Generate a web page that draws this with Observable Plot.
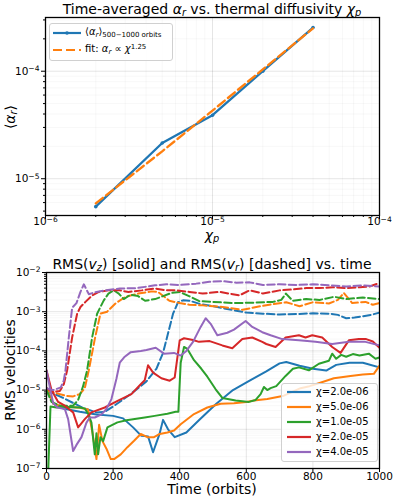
<!DOCTYPE html>
<html><head><meta charset="utf-8">
<script src="https://cdn.jsdelivr.net/npm/d3@7"></script>
<script src="https://cdn.jsdelivr.net/npm/@observablehq/plot@0.6"></script>
<style>
body{margin:0;background:#fff;}
#wrap{position:relative;width:396px;height:499px;font-family:"DejaVu Sans",sans-serif;color:#000;overflow:hidden;background:#fff}
.abs{position:absolute;white-space:nowrap}
sub{font-size:70%;vertical-align:-0.25em;line-height:0}
sup{font-size:70%;vertical-align:0.45em;line-height:0}
.ttl{font-size:14px;line-height:16px;left:45px;width:334px;text-align:center}
.lab{font-size:14px;line-height:16px;text-align:center}
.rot{transform:rotate(-90deg)}
.box{position:absolute;background:rgba(255,255,255,0.8);border:1px solid #d0d0d0;border-radius:3px}
.lt{font-size:10px;line-height:12px}
</style></head><body>
<div id="wrap">
  <div id="topchart" class="abs" style="left:0;top:0"></div>
  <div id="botchart" class="abs" style="left:0;top:245px"></div>

  <div class="abs ttl" style="top:1px">Time-averaged <i>α</i><sub><i>r</i></sub> vs. thermal diffusivity <i>χ</i><sub><i>p</i></sub></div>
  <div class="abs lab" style="left:162px;width:100px;top:230px;line-height:11px"><i>χ</i><sub><i>p</i></sub></div>
  <div class="abs lab rot" style="left:-40px;width:100px;top:109px">⟨<i>α</i><sub><i>r</i></sub>⟩</div>

  <div class="abs ttl" style="top:256px">RMS(<i>v</i><sub><i>z</i></sub>) [solid] and RMS(<i>v</i><sub><i>r</i></sub>) [dashed] vs. time</div>
  <div class="abs lab" style="left:132px;width:160px;top:481px">Time (orbits)</div>
  <div class="abs lab rot" style="left:-50px;width:120px;top:362px">RMS velocities</div>

  <div id="legTop"></div>
  <div id="legBot"></div>
</div>
<script>
// ---------- top panel data ----------
const topChi   = [2e-6, 5e-6, 1e-5, 2e-5, 4e-5];
const topAlpha = [5.5e-6, 2.15e-5, 3.9e-5, 1.0e-4, 2.55e-4];
const topFit   = [5.9e-6, 1.8e-5, 4.3e-5, 1.04e-4, 2.5e-4];

// ---------- bottom panel data (time in orbits, RMS velocity) ----------
const chiLabels = ["χ=2.0e-06", "χ=5.0e-06", "χ=1.0e-05", "χ=2.0e-05", "χ=4.0e-05"];
const colors = ["#1f77b4", "#ff7f0e", "#2ca02c", "#d62728", "#9467bd"];

const tVz1 = [0,20,50,100,150,200,230,260,285,305,320,340,350,365,385,420,460,510,560,610,660,700,720,760,800,840,870,910,950,1000];
const vz1  = [1.12e-5,4.5e-6,3.4e-6,2.8e-6,2.4e-6,2.2e-6,1.9e-6,1.12e-6,6.8e-7,6.6e-7,2.6e-7,7.9e-7,1.74e-6,1.0e-6,6.3e-7,8.3e-7,1.78e-6,4.5e-6,1.0e-5,1.74e-5,3.0e-5,4.8e-5,5.2e-5,4.2e-5,3.5e-5,3.16e-5,4.4e-5,5.0e-5,5.0e-5,3.8e-5];
const tVr1 = [0,20,50,80,110,150,175,200,250,300,330,350,365,380,395,410,430,460,500,530,560,600,650,700,750,800,850,875,900,925,950,975,1000];
const vr1  = [1.0e-5,8.3e-6,6.3e-6,4.7e-6,3.5e-6,2.7e-6,2.8e-6,3.8e-6,7.6e-6,1.66e-5,3.5e-5,8.9e-5,2.8e-4,8.9e-4,1.74e-3,1.95e-3,1.9e-3,1.58e-3,1.38e-3,1.23e-3,1.1e-3,9.5e-4,8.9e-4,8.5e-4,8.7e-4,9.1e-4,8.9e-4,8.3e-4,6.8e-4,7.1e-4,7.6e-4,8.3e-4,9.5e-4];

const tVz2 = [0,20,50,100,125,138,150,158,168,180,193,203,223,243,263,283,303,323,340,363,383,403,443,483,523,563,600,623,663,713,763,790,813,863,913,950,983,1000];
const vz2  = [1.07e-5,4.5e-6,3.8e-6,3.55e-6,3.2e-6,8.3e-7,1.74e-7,1.3e-6,5.0e-7,3.2e-7,1.74e-7,1.74e-7,2.3e-7,3.5e-7,5.1e-7,7.6e-7,6.3e-7,6.3e-7,7.6e-7,8.3e-7,9.3e-7,1.35e-6,2.45e-6,3.6e-6,4.5e-6,4.6e-6,5.0e-6,5.4e-6,5.9e-6,7.2e-6,1.12e-5,1.26e-5,1.45e-5,2.0e-5,2.3e-5,2.5e-5,2.6e-5,4.2e-5];
const tVr2 = [0,30,60,80,100,115,127,145,162,182,207,237,276,316,335,369,400,429,470,529,589,630,669,720,760,800,848,875,893,918,958,980,1000];
const vr2  = [1.0e-5,8.3e-6,7.1e-6,6.9e-6,7.9e-6,1.12e-5,3.2e-5,2.0e-4,8.9e-4,1.0e-3,1.62e-3,2.4e-3,2.9e-3,3.3e-3,3.2e-3,1.9e-3,1.66e-3,1.5e-3,1.45e-3,1.32e-3,1.12e-3,1.32e-3,1.5e-3,1.74e-3,1.38e-3,1.74e-3,1.62e-3,2.0e-3,3.0e-3,1.66e-3,1.78e-3,1.5e-3,1.66e-3];

const tVz3 = [0,5,12,30,60,100,115,125,135,145,150,155,162,170,183,195,213,240,265,295,325,363,388,396,403,413,423,443,465,483,508,528,568,608,628,643,653,663,673,690,718,740,758,788,818,848,858,870,885,900,920,940,968,988,1000];
const vz3  = [3.2e-8,7.9e-8,3.8e-6,3.6e-6,3.7e-6,3.6e-6,3.4e-6,2.5e-6,1.48e-6,2.3e-7,7.9e-7,2.3e-7,6.3e-7,5.0e-7,1.12e-6,1.26e-6,1.5e-6,1.7e-6,1.82e-6,2.0e-6,2.2e-6,2.5e-6,2.8e-6,2.8e-6,5.0e-5,1.26e-4,1.12e-4,5.8e-5,3.5e-5,2.2e-5,1.05e-5,6.3e-6,5.4e-6,5.0e-6,5.6e-6,7.9e-6,1.2e-5,1.0e-5,1.12e-5,1.26e-5,2.3e-5,3.5e-5,3.8e-5,3.2e-5,4.7e-5,5.6e-5,8.5e-5,6.3e-5,7.9e-5,7.1e-5,8.3e-5,7.6e-5,8.5e-5,6.3e-5,6.8e-5];
const tVr3 = [0,15,40,80,95,110,122,137,152,172,186,202,217,232,252,275,296,326,350,375,400,428,459,500,560,620,680,705,719,739,780,820,864,900,950,1000];
const vr3  = [1.0e-5,5.0e-6,4.0e-6,4.0e-6,5.6e-6,1.26e-5,3.2e-5,2.2e-4,8.9e-4,1.95e-3,2.9e-3,3.5e-3,2.9e-3,2.1e-3,2.7e-3,2.5e-3,1.9e-3,2.1e-3,2.5e-3,3.0e-3,3.2e-3,2.5e-3,1.86e-3,1.78e-3,1.66e-3,1.7e-3,1.78e-3,2.0e-3,2.9e-3,1.9e-3,2.1e-3,2.0e-3,2.4e-3,2.1e-3,2.3e-3,2.1e-3];

const tVz4 = [0,15,35,55,80,95,115,135,175,215,255,283,295,305,320,345,370,385,400,413,440,458,490,528,558,588,618,648,660,688,718,758,778,798,828,858,883,908,938,960,980,1000];
const vz4  = [3.2e-5,1.0e-5,5.0e-6,4.0e-6,2.7e-6,1.12e-6,1.82e-6,2.7e-6,3.6e-6,5.4e-6,7.9e-6,1.41e-5,1.78e-5,4.3e-5,2.8e-5,2.0e-5,1.74e-5,2.1e-5,1.86e-4,2.1e-4,1.9e-4,1.7e-4,1.78e-4,1.38e-4,1.17e-4,2.0e-4,2.2e-4,1.7e-4,1.5e-4,1.26e-4,2.2e-4,2.5e-4,2.2e-4,2.5e-4,2.2e-4,1.26e-4,8.9e-5,1.86e-4,2.0e-4,2.0e-4,1.74e-4,1.2e-4];
const tVr4 = [0,20,40,52,62,77,92,102,117,137,157,186,220,246,286,326,360,389,430,469,520,579,610,650,700,740,780,820,860,900,940,970,1000];
const vr4  = [1.12e-5,8.9e-6,9.5e-6,1.41e-5,3.2e-5,2.2e-4,8.9e-4,1.32e-3,1.78e-3,2.6e-3,3.2e-3,3.5e-3,3.5e-3,3.2e-3,3.5e-3,3.9e-3,3.5e-3,3.5e-3,3.2e-3,2.9e-3,3.2e-3,2.6e-3,3.5e-3,2.9e-3,3.5e-3,3.7e-3,4.0e-3,4.0e-3,4.2e-3,4.0e-3,4.2e-3,4.4e-3,5.4e-3];

const tVz5 = [0,10,20,33,55,65,80,90,105,120,130,145,165,180,195,210,220,235,253,283,300,328,353,383,403,420,440,463,478,493,513,543,563,598,618,648,673,708,758,808,858,908,958,1000];
const vz5  = [3.2e-5,1.17e-5,4.7e-6,3.6e-6,3.3e-6,1.82e-6,2.8e-7,4.0e-7,6.3e-7,1.48e-6,2.0e-6,2.0e-6,2.4e-6,3.3e-6,5.9e-6,1.95e-5,5.0e-5,7.1e-5,9.3e-5,1.0e-4,1.05e-4,1.2e-4,8.5e-5,8.9e-5,7.6e-5,1.0e-4,1.7e-4,4.1e-4,6.8e-4,4.9e-4,2.5e-4,2.9e-4,3.5e-4,5.8e-4,4.1e-4,3.0e-4,2.5e-4,2.0e-4,1.86e-4,1.7e-4,1.5e-4,1.7e-4,1.7e-4,1.38e-4];
const tVr5 = [0,20,43,52,57,67,77,90,102,112,127,150,177,220,270,296,326,360,400,449,489,530,570,610,650,700,750,800,850,900,950,1000];
const vr5  = [1.12e-5,1.0e-5,1.17e-5,1.78e-5,3.2e-5,2.2e-4,1.26e-3,1.66e-3,3.2e-3,5.0e-3,2.8e-3,3.2e-3,3.5e-3,3.9e-3,4.0e-3,4.3e-3,4.7e-3,5.0e-3,4.8e-3,5.2e-3,5.8e-3,6.0e-3,5.5e-3,5.6e-3,4.8e-3,5.0e-3,4.8e-3,5.0e-3,4.7e-3,4.4e-3,4.7e-3,4.4e-3];

const seriesVz = [[tVz1,vz1],[tVz2,vz2],[tVz3,vz3],[tVz4,vz4],[tVz5,vz5]];
const seriesVr = [[tVr1,vr1],[tVr2,vr2],[tVr3,vr3],[tVr4,vr4],[tVr5,vr5]];

// ---------- helpers ----------
const powFmt = d => "10^" + Math.round(Math.log10(d));
function applySup(svg){
  const ns = "http://www.w3.org/2000/svg";
  svg.querySelectorAll("text").forEach(el => {
    const m = el.textContent.match(/^10\^(-?\d+)$/);
    if (!m) return;
    while (el.firstChild) el.removeChild(el.firstChild);
    const a = document.createElementNS(ns, "tspan"); a.textContent = "10";
    const b = document.createElementNS(ns, "tspan");
    b.textContent = m[1].replace("-", "\u2212");
    b.setAttribute("dy", "-0.45em"); b.setAttribute("font-size", "0.72em");
    el.appendChild(a); el.appendChild(b);
  });
}
function minorLog(e0, e1){ const out=[]; for(let e=e0;e<=e1;e++) for(let k=2;k<=9;k++) out.push(k*Math.pow(10,e)); return out; }

const gridMajor = {stroke: "#000", strokeOpacity: 0.13, strokeWidth: 0.8};
const gridMinor = {stroke: "#000", strokeOpacity: 0.06, strokeWidth: 0.6};
const axStyle = {fontSize: "10.5px", fontFamily: "DejaVu Sans", background: "transparent", color: "#000", overflow: "visible"};

// ---------- top plot ----------
const topRows = topChi.map((c, i) => ({chi: c, alpha: topAlpha[i], fit: topFit[i]}));
const tXmaj = [1e-6, 1e-5, 1e-4];
const tXmin = minorLog(-6, -5);
const tYmaj = [1e-5, 1e-4];
const tYmin = minorLog(-6, -4).filter(v => v >= 4.55e-6 && v <= 3.16e-4);

const topPlot = Plot.plot({
  width: 396, height: 245,
  marginTop: 17, marginBottom: 30, marginLeft: 45, marginRight: 17,
  style: axStyle,
  x: {type: "log", domain: [1e-6, 1e-4], label: null},
  y: {type: "log", domain: [4.55e-6, 3.16e-4], label: null},
  marks: [
    Plot.gridX(tXmin, gridMinor),
    Plot.gridY(tYmin, gridMinor),
    Plot.gridX(tXmaj, gridMajor),
    Plot.gridY(tYmaj, gridMajor),
    Plot.line(topRows, {x: "chi", y: "alpha", stroke: "#1f77b4", strokeWidth: 2.3}),
    Plot.dot(topRows, {x: "chi", y: "alpha", r: 1.8, fill: "#1f77b4"}),
    Plot.line(topRows, {x: "chi", y: "fit", stroke: "#ff7f0e", strokeWidth: 2.3, strokeDasharray: "9,4"}),
    Plot.frame({stroke: "#000", strokeWidth: 1.3}),
    Plot.axisX(tXmaj, {tickFormat: powFmt, tickSize: 4, tickPadding: -2}),
    Plot.axisX(tXmin, {tickFormat: () => "", tickSize: 2}),
    Plot.axisY(tYmaj, {tickFormat: powFmt, tickSize: 4, tickPadding: 2}),
    Plot.axisY(tYmin, {tickFormat: () => "", tickSize: 2})
  ]
});
applySup(topPlot);
document.getElementById("topchart").appendChild(topPlot);

// ---------- bottom plot ----------
const bXmaj = [0, 200, 400, 600, 800, 1000];
const bYmaj = [1e-7, 1e-6, 1e-5, 1e-4, 1e-3, 1e-2];
const bYmin = minorLog(-7, -3);

const lineMarks = [];
colors.forEach((c, i) => {
  const [tz, vz] = seriesVz[i];
  const [tr, vr] = seriesVr[i];
  const rz = tz.map((t, j) => ({t, v: vz[j]}));
  const rr = tr.map((t, j) => ({t, v: vr[j]}));
  lineMarks.push(Plot.line(rz, {x: "t", y: "v", stroke: c, strokeWidth: 2, clip: true}));
  lineMarks.push(Plot.line(rr, {x: "t", y: "v", stroke: c, strokeWidth: 2, strokeDasharray: "7.5,3.3", clip: true}));
});

const botPlot = Plot.plot({
  width: 396, height: 254,
  marginTop: 27, marginBottom: 31, marginLeft: 46, marginRight: 17,
  style: axStyle,
  x: {domain: [0, 1000], label: null},
  y: {type: "log", domain: [1e-7, 1e-2], label: null},
  marks: [
    Plot.gridY(bYmin, gridMinor),
    Plot.gridY(bYmaj, gridMajor),
    Plot.gridX(bXmaj, gridMajor),
    ...lineMarks,
    Plot.frame({stroke: "#000", strokeWidth: 1.3}),
    Plot.axisX(bXmaj, {tickSize: 4, tickPadding: 0, tickFormat: d => String(d)}),
    Plot.axisY(bYmaj, {tickFormat: powFmt, tickSize: 4, tickPadding: 2}),
    Plot.axisY(bYmin, {tickFormat: () => "", tickSize: 2})
  ]
});
applySup(botPlot);
document.getElementById("botchart").appendChild(botPlot);

// ---------- legends ----------
function swatch(left, cy, w, color, dash, marker){
  const s = `<svg class="abs" style="left:${left}px;top:${cy-5}px" width="${w}" height="10">
    <line x1="0" y1="5" x2="${w}" y2="5" stroke="${color}" stroke-width="2.2" ${dash ? `stroke-dasharray="${dash}"` : ""}/>
    ${marker ? `<circle cx="${w/2}" cy="5" r="1.8" fill="${color}"/>` : ""}</svg>`;
  return s;
}
const lt = document.getElementById("legTop");
lt.innerHTML =
  `<div class="box" style="left:49px;top:23px;width:122px;height:36px"></div>` +
  swatch(53, 33, 28, "#1f77b4", null, true) +
  `<div class="abs lt" style="left:85px;top:26px">⟨<i>α</i><sub><i>r</i></sub>⟩<sub>500−1000 orbits</sub></div>` +
  swatch(53, 50, 28, "#ff7f0e", "9,4", false) +
  `<div class="abs lt" style="left:85px;top:43px">fit: <i>α</i><sub><i>r</i></sub> ∝ <i>χ</i><sup>1.25</sup></div>`;

const lb = document.getElementById("legBot");
let html = `<div class="box" style="left:281px;top:383px;width:95px;height:77px"></div>`;
chiLabels.forEach((lab, i) => {
  const cy = 392 + i * 15;
  html += swatch(287, cy, 24, colors[i], null, false);
  html += `<div class="abs lt" style="left:316px;top:${cy-6}px">${lab}</div>`;
});
lb.innerHTML = html;
</script>
</body></html>
